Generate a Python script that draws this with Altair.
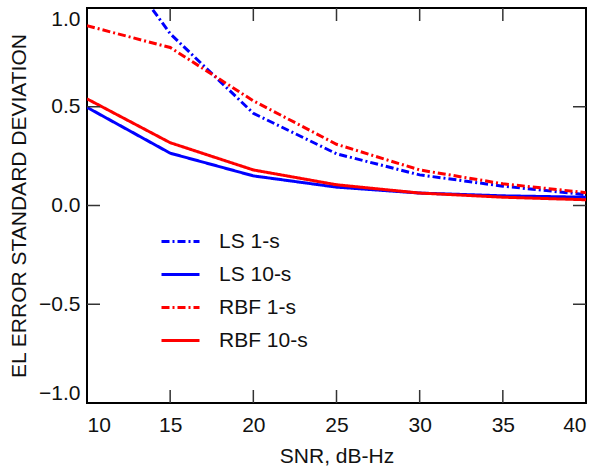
import altair as alt
import pandas as pd

snr = [10, 15, 20, 25, 30, 35, 40]
ls_1s = [1.45, 0.87, 0.467, 0.262, 0.155, 0.098, 0.055]
ls_10s = [0.497, 0.265, 0.150, 0.093, 0.063, 0.049, 0.042]
rbf_1s = [0.91, 0.80, 0.53, 0.31, 0.18, 0.11, 0.065]
rbf_10s = [0.54, 0.318, 0.180, 0.105, 0.063, 0.042, 0.029]
series_names = ["LS 1-s", "LS 10-s", "RBF 1-s", "RBF 10-s"]
series_colors = ["#0000ff", "#0000ff", "#ff0000", "#ff0000"]
series_dash = [[8, 3, 2, 3], [1, 0], [8, 3, 2, 3], [1, 0]]
x_ticks = [15, 20, 25, 30, 35]
y_ticks = [-0.5, 0.0, 0.5]
x_labels = [10, 15, 20, 25, 30, 35, 40]
y_labels = [-1.0, -0.5, 0.0, 0.5, 1.0]

rows = []
for name, vals in zip(series_names, [ls_1s, ls_10s, rbf_1s, rbf_10s]):
    for s, v in zip(snr, vals):
        rows.append({"snr": s, "val": v, "series": name})
df = pd.DataFrame(rows)
xt = pd.DataFrame({"t": x_ticks})
yt = pd.DataFrame({"t": y_ticks})

W, H = 499, 395
FONT = "Liberation Sans"
FS = 21

xscale = alt.Scale(domain=[10, 40], nice=False, zero=False)
yscale = alt.Scale(domain=[-1, 1], nice=False, zero=False)

lines = alt.Chart(df).mark_line(strokeWidth=3, clip=True).encode(
    x=alt.X("snr:Q", scale=xscale,
            axis=alt.Axis(title="SNR, dB-Hz", values=x_labels, format="d",
                          labelFlush=True, ticks=False, domain=False, grid=False,
                          labelPadding=11, titlePadding=10)),
    y=alt.Y("val:Q", scale=yscale,
            axis=alt.Axis(title="EL ERROR STANDARD DEVIATION", values=y_labels,
                          format=".1f", labelFlush=True, ticks=False, domain=False,
                          grid=False, labelPadding=7, titlePadding=9)),
    color=alt.Color("series:N",
                    scale=alt.Scale(domain=series_names, range=series_colors),
                    legend=alt.Legend(title=None, orient="none", legendX=73,
                                      legendY=213, symbolType="stroke",
                                      symbolSize=1444, symbolStrokeWidth=3,
                                      labelFontSize=FS, labelFont=FONT,
                                      labelColor="#111111", labelOffset=18,
                                      rowPadding=2, padding=0)),
    strokeDash=alt.StrokeDash("series:N",
                              scale=alt.Scale(domain=series_names, range=series_dash),
                              legend=alt.Legend(title=None, orient="none", legendX=73,
                                                legendY=213)),
    order=alt.Order("series:N"),
    detail="series:N",
)

tick_color = "#333333"
top_ticks = alt.Chart(xt).mark_rule(color=tick_color, strokeWidth=1.5).encode(
    x=alt.X("t:Q", scale=xscale), y=alt.value(0), y2=alt.value(13))
bot_ticks = alt.Chart(xt).mark_rule(color=tick_color, strokeWidth=1.5).encode(
    x=alt.X("t:Q", scale=xscale), y=alt.value(H), y2=alt.value(H - 13))
left_ticks = alt.Chart(yt).mark_rule(color=tick_color, strokeWidth=1.5).encode(
    y=alt.Y("t:Q", scale=yscale), x=alt.value(0), x2=alt.value(13))
right_ticks = alt.Chart(yt).mark_rule(color=tick_color, strokeWidth=1.5).encode(
    y=alt.Y("t:Q", scale=yscale), x=alt.value(W), x2=alt.value(W - 13))

chart = alt.layer(lines, top_ticks, bot_ticks, left_ticks, right_ticks).properties(
    width=W, height=H,
    background="white",
    autosize=alt.AutoSizeParams(type="none"),
    padding={"left": 87, "top": 8, "right": 13, "bottom": 65},
).configure_view(
    stroke="#000000", strokeWidth=2
).configure_axis(
    labelFont=FONT, titleFont=FONT, labelFontSize=FS, titleFontSize=FS,
    labelColor="#111111", titleColor="#111111", titleFontWeight="normal",
)

chart.save("out.html", embed_options={"renderer": "svg", "actions": False})
